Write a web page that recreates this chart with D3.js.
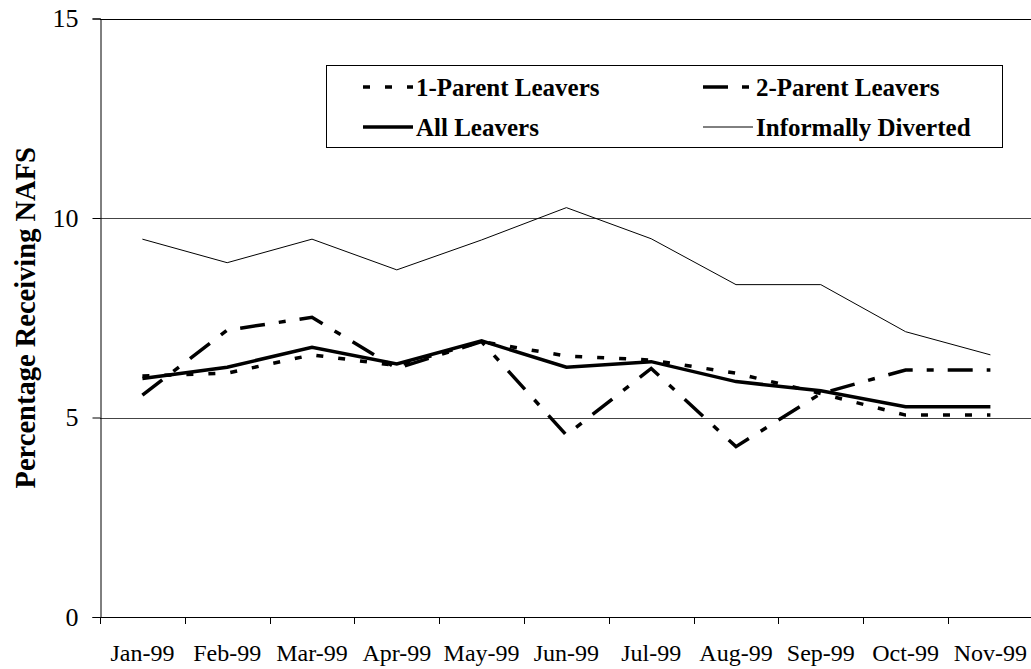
<!DOCTYPE html>
<html>
<head>
<meta charset="utf-8">
<script src="https://cdn.jsdelivr.net/npm/d3@7"></script>
<style>
  body { margin: 0; background: #fff; }
  svg { display: block; }
</style>
</head>
<body>
<div id="chart"></div>
<script>
// dados
const months = ["Jan-99", "Feb-99", "Mar-99", "Apr-99", "May-99", "Jun-99",
                "Jul-99", "Aug-99", "Sep-99", "Oct-99", "Nov-99"];
const oneParent  = [6.04, 6.11, 6.57, 6.30, 6.90, 6.54, 6.44, 6.11, 5.60, 5.06, 5.06];
const twoParent  = [5.56, 7.19, 7.51, 6.23, 6.90, 4.56, 6.23, 4.27, 5.60, 6.19, 6.19];
const allLeavers = [5.98, 6.26, 6.76, 6.34, 6.92, 6.26, 6.40, 5.90, 5.67, 5.27, 5.27];
const diverted   = [9.47, 8.88, 9.47, 8.70, 9.45, 10.26, 9.48, 8.33, 8.33, 7.15, 6.57];
const yTicks = [0, 5, 10, 15];

const width = 1031, height = 669;
const plotLeft = 100, plotTop = 18.5, plotBottom = 617;
const step = 84.8;

const series = [
  { name: "1-Parent Leavers",   values: oneParent,  width: 3.5, dash: "7,15" },
  { name: "2-Parent Leavers",   values: twoParent,  width: 3.5, dash: "25,14,7,14" },
  { name: "All Leavers",        values: allLeavers, width: 3.5, dash: null },
  { name: "Informally Diverted", values: diverted,  width: 1,   dash: null }
];

const svg = d3.select("#chart").append("svg")
  .attr("width", width).attr("height", height);

const x = d3.scaleBand().domain(months).range([plotLeft, plotLeft + step * months.length]);
const y = d3.scaleLinear().domain([0, 15]).range([plotBottom, plotTop]);

// linhas de grade
svg.append("g").selectAll("line")
  .data(yTicks.filter(d => d > 0))
  .join("line")
  .attr("x1", plotLeft).attr("x2", width)
  .attr("y1", d => Math.round(y(d)) + 0.5).attr("y2", d => Math.round(y(d)) + 0.5)
  .attr("stroke", d => d === 15 ? "#000" : "#444")
  .attr("stroke-width", 1);

// eixo Y
const yAxis = svg.append("g")
  .attr("transform", `translate(${plotLeft + 0.5},0)`)
  .call(d3.axisLeft(y).tickValues(yTicks).tickSize(8).tickPadding(14));
yAxis.selectAll("text")
  .attr("font-family", "Liberation Serif").attr("font-size", 26).attr("fill", "#000");
yAxis.select(".domain").attr("stroke", "#000");

// eixo X
const xAxis = svg.append("g")
  .attr("transform", `translate(0,${Math.round(plotBottom) + 0.5})`)
  .call(d3.axisBottom(x).tickSize(0).tickPadding(26));
xAxis.select(".domain").remove();
xAxis.selectAll("text")
  .attr("font-family", "Liberation Serif").attr("font-size", 24).attr("fill", "#000");
svg.append("line")
  .attr("x1", plotLeft).attr("x2", width)
  .attr("y1", Math.round(plotBottom) + 0.5).attr("y2", Math.round(plotBottom) + 0.5)
  .attr("stroke", "#000");
svg.append("g").selectAll("line")
  .data(d3.range(months.length + 1))
  .join("line")
  .attr("x1", i => Math.round(plotLeft + i * step) + 0.5)
  .attr("x2", i => Math.round(plotLeft + i * step) + 0.5)
  .attr("y1", plotBottom).attr("y2", plotBottom + 7)
  .attr("stroke", "#000");

// título do eixo Y
svg.append("text")
  .attr("transform", `translate(35,${(plotTop + plotBottom) / 2}) rotate(-90)`)
  .attr("text-anchor", "middle")
  .attr("font-family", "Liberation Serif").attr("font-weight", "bold")
  .attr("font-size", 28.5)
  .text("Percentage Receiving NAFS");

// séries
const line = d3.line()
  .x((d, i) => x(months[i]) + x.bandwidth() / 2)
  .y(d => y(d));

svg.append("g").selectAll("path")
  .data(series)
  .join("path")
  .attr("d", d => line(d.values))
  .attr("fill", "none")
  .attr("stroke", "#000")
  .attr("stroke-width", d => d.width)
  .attr("stroke-dasharray", d => d.dash)
  .attr("stroke-linejoin", "miter");

// legenda
const legend = svg.append("g");
legend.append("rect")
  .attr("x", 326.5).attr("y", 65.5).attr("width", 676).attr("height", 82)
  .attr("fill", "#fff").attr("stroke", "#000");

const legendPos = [
  { x: 363, y: 87 }, { x: 703, y: 87 },
  { x: 363, y: 127 }, { x: 703, y: 127 }
];
const item = legend.selectAll("g.item")
  .data(series)
  .join("g")
  .attr("class", "item")
  .attr("transform", (d, i) => `translate(${legendPos[i].x},${legendPos[i].y})`);
item.append("line")
  .attr("x1", 0).attr("x2", 50)
  .attr("stroke", "#000")
  .attr("stroke-width", d => d.width)
  .attr("stroke-dasharray", d => d.dash);
item.append("text")
  .attr("x", 53).attr("y", 0).attr("dy", "0.35em")
  .attr("font-family", "Liberation Serif").attr("font-weight", "bold")
  .attr("font-size", 25)
  .text(d => d.name);
</script>
</body>
</html>
